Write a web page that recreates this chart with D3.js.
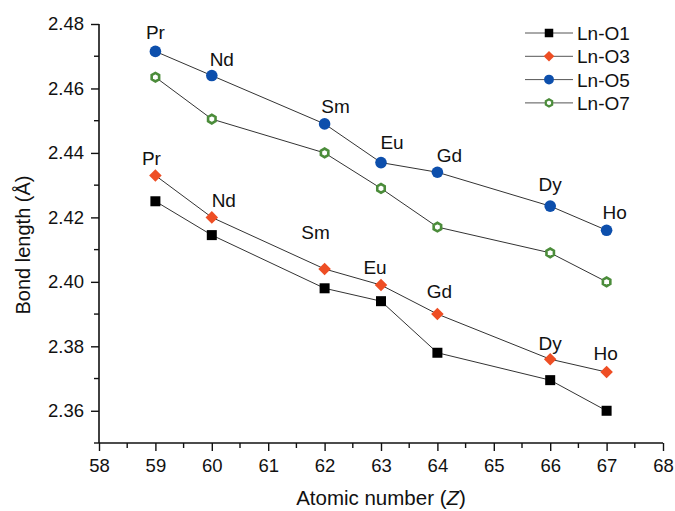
<!DOCTYPE html>
<html>
<head>
<meta charset="utf-8">
<script src="https://cdn.jsdelivr.net/npm/d3@7"></script>
<style>
  body { margin: 0; background: #fff; }
  text { font-family: "Liberation Sans", Arial, sans-serif; fill: #111; }
</style>
</head>
<body>
<div id="canvas"></div>
<script>
var width = 675;
var height = 511;

// data
var atomicNumbers = [59, 60, 62, 63, 64, 66, 67];
var elements = ["Pr", "Nd", "Sm", "Eu", "Gd", "Dy", "Ho"];
var lnO1 = [2.425, 2.4145, 2.398, 2.394, 2.378, 2.3695, 2.360];
var lnO3 = [2.433, 2.420, 2.404, 2.399, 2.390, 2.376, 2.372];
var lnO5 = [2.4715, 2.464, 2.449, 2.437, 2.434, 2.4235, 2.416];
var lnO7 = [2.4635, 2.4505, 2.440, 2.429, 2.417, 2.409, 2.400];
var seriesNames = ["Ln-O1", "Ln-O3", "Ln-O5", "Ln-O7"];
var xTicks = [58, 59, 60, 61, 62, 63, 64, 65, 66, 67, 68];
var yTicks = [2.36, 2.38, 2.40, 2.42, 2.44, 2.46, 2.48];

var series = [
    { name: seriesNames[0], values: lnO1, shape: "square", color: "#000000" },
    { name: seriesNames[1], values: lnO3, shape: "diamond", color: "#ee4e24" },
    { name: seriesNames[2], values: lnO5, shape: "circle", color: "#0d4fac" },
    { name: seriesNames[3], values: lnO7, shape: "hexagon", color: "#4b8c3a" }
];

// label nudges relative to the marker (px): upper row sits on Ln-O5, lower row on Ln-O3
var upperDx = [0, 10, 11, 11, 12, 0, 8];
var upperDy = [-12, -10, -11, -14, -10, -15, -11];
var lowerDx = [-4, 12, -9, -6, 2, 0, -1];
var lowerDy = [-10, -10, -30, -11, -16, -9, -12];

var svg = d3.select("#canvas")
            .append("svg")
            .attr("width", width)
            .attr("height", height);

var xScale = d3.scaleLinear().domain([58, 68]).range([99, 663]);
var yScale = d3.scaleLinear().domain([2.35, 2.48]).range([443, 24]);

// axes
var xAxis = d3.axisBottom(xScale).tickValues(xTicks).tickFormat(d3.format("d")).tickSize(8).tickPadding(8);
var yAxis = d3.axisLeft(yScale).tickValues(yTicks).tickFormat(d3.format(".2f")).tickSize(8).tickPadding(7);

var gx = svg.append("g").attr("transform", "translate(0," + yScale(2.35) + ")").call(xAxis);
var gy = svg.append("g").attr("transform", "translate(" + xScale(58) + ",0)").call(yAxis);

[gx, gy].forEach(g => {
    g.select(".domain").attr("stroke", "#111").attr("stroke-width", 1.6);
    g.selectAll(".tick line").attr("stroke", "#111").attr("stroke-width", 1.4);
    g.selectAll(".tick text").style("font-size", "18.5px").style("font-family", "'Liberation Sans', Arial, sans-serif").attr("fill", "#111");
});
gx.select(".domain").attr("d", "M" + xScale(58) + ",0H" + xScale(68));
gy.select(".domain").attr("d", "M0," + yScale(2.35) + "V" + yScale(2.48));

// minor ticks
var xMinor = d3.range(58.5, 68, 1);
var yMinor = d3.range(2.35, 2.48, 0.02);
svg.append("g").selectAll("line").data(xMinor).join("line")
    .attr("x1", d => xScale(d)).attr("x2", d => xScale(d))
    .attr("y1", yScale(2.35)).attr("y2", yScale(2.35) + 5)
    .attr("stroke", "#111").attr("stroke-width", 1.4);
svg.append("g").selectAll("line").data(yMinor).join("line")
    .attr("x1", xScale(58) - 5).attr("x2", xScale(58))
    .attr("y1", d => yScale(d)).attr("y2", d => yScale(d))
    .attr("stroke", "#111").attr("stroke-width", 1.4);

// axis titles
svg.append("text")
    .attr("text-anchor", "middle")
    .attr("x", 381)
    .attr("y", 505)
    .style("font-size", "20.5px")
    .html("Atomic number (<tspan font-style='italic'>Z</tspan>)");

svg.append("text")
    .attr("text-anchor", "middle")
    .attr("transform", "translate(30,245) rotate(-90)")
    .style("font-size", "20px")
    .text("Bond length (Å)");

// marker drawing
function drawMarker(g, shape, color, cx, cy, k) {
    k = k || 1;
    switch (shape) {
        case "square":
            g.append("rect")
                .attr("x", cx - 5 * k).attr("y", cy - 5 * k)
                .attr("width", 10 * k).attr("height", 10 * k)
                .attr("fill", color);
            break;
        case "diamond":
            g.append("path")
                .attr("d", d3.symbol(d3.symbolDiamond2, 100 * k * k)())
                .attr("transform", "translate(" + cx + "," + cy + ")")
                .attr("fill", color);
            break;
        case "circle":
            g.append("circle")
                .attr("cx", cx).attr("cy", cy).attr("r", 5.8 * k)
                .attr("fill", color);
            break;
        case "hexagon":
            var pts = d3.range(6).map(i => {
                var a = Math.PI / 6 + i * Math.PI / 3;
                return [cx + 4.3 * k * Math.cos(a), cy + 4.3 * k * Math.sin(a)];
            });
            g.append("polygon")
                .attr("points", pts.map(p => p.join(",")).join(" "))
                .attr("fill", "#fff")
                .attr("stroke", color)
                .attr("stroke-width", 2.6 * k);
            break;
    }
}

var line = d3.line()
    .x((d, i) => xScale(atomicNumbers[i]))
    .y(d => yScale(d));

series.forEach(s => {
    svg.append("path")
        .attr("d", line(s.values))
        .attr("fill", "none")
        .attr("stroke", "#333")
        .attr("stroke-width", 1);
});

series.forEach(s => {
    var g = svg.append("g");
    s.values.forEach((v, i) => {
        drawMarker(g, s.shape, s.color, xScale(atomicNumbers[i]), yScale(v));
    });
});

// element labels
svg.append("g").selectAll("text").data(elements).join("text")
    .attr("text-anchor", "middle")
    .attr("x", (d, i) => xScale(atomicNumbers[i]) + upperDx[i])
    .attr("y", (d, i) => yScale(lnO5[i]) + upperDy[i])
    .style("font-size", "19px")
    .text(d => d);

svg.append("g").selectAll("text").data(elements).join("text")
    .attr("text-anchor", "middle")
    .attr("x", (d, i) => xScale(atomicNumbers[i]) + lowerDx[i])
    .attr("y", (d, i) => yScale(lnO3[i]) + lowerDy[i])
    .style("font-size", "19px")
    .text(d => d);

// legend
var legend = svg.append("g");
series.forEach((s, i) => {
    var y = 33 + i * 23.3;
    legend.append("line")
        .attr("x1", 525).attr("x2", 573)
        .attr("y1", y).attr("y2", y)
        .attr("stroke", "#555").attr("stroke-width", 1);
    drawMarker(legend, s.shape, s.color, 549, y, 0.85);
    legend.append("text")
        .attr("x", 577).attr("y", y + 7)
        .style("font-size", "19px")
        .text(s.name);
});
</script>
</body>
</html>
